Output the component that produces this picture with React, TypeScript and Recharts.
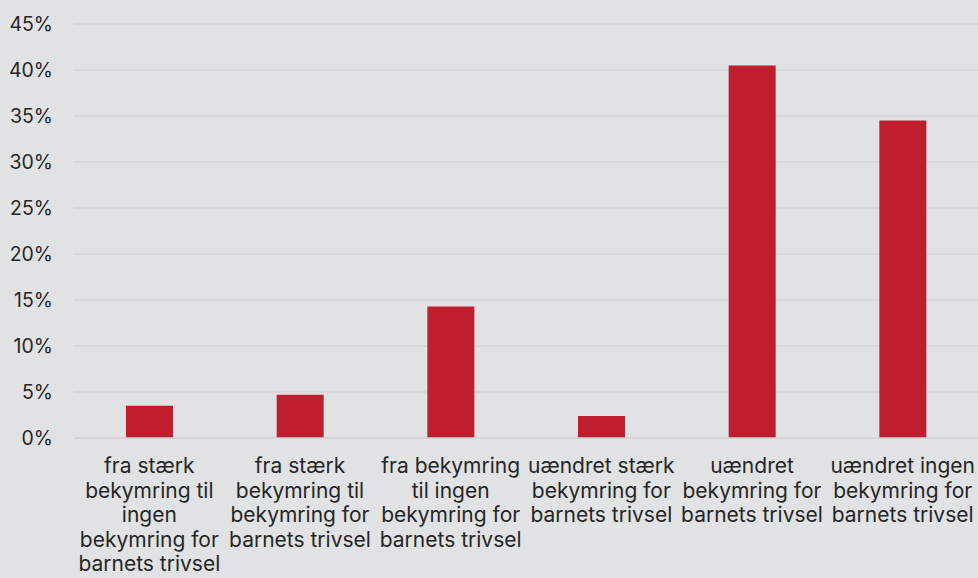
import { BarChart, Bar, XAxis, YAxis, CartesianGrid } from "recharts";

// x-axis categories (line breaks as in the original wrapped labels)
const categories = [
  "fra stærk\nbekymring til\ningen\nbekymring for\nbarnets trivsel",
  "fra stærk\nbekymring til\nbekymring for\nbarnets trivsel",
  "fra bekymring\ntil ingen\nbekymring for\nbarnets trivsel",
  "uændret stærk\nbekymring for\nbarnets trivsel",
  "uændret\nbekymring for\nbarnets trivsel",
  "uændret ingen\nbekymring for\nbarnets trivsel",
];

const shares = [0.035, 0.047, 0.143, 0.024, 0.405, 0.345];

const yTicks = [0, 0.05, 0.1, 0.15, 0.2, 0.25, 0.3, 0.35, 0.4, 0.45];

const bg = "#e1e2e4";
const gridColor = "#d4d5d8";
const barColor = "#be1e2d";
const textColor = "#262626";
const fontFamily = "Inter, 'Noto Sans', sans-serif";

const data = categories.map((label, i) => ({ label, value: shares[i] }));

type TickProps = { x?: number; y?: number; payload?: { value: string } };

function CategoryTick({ x = 0, y = 0, payload }: TickProps) {
  const lines = String(payload?.value ?? "").split("\n");
  return (
    <text
      x={x}
      y={y}
      textAnchor="middle"
      fill={textColor}
      fontSize={21}
      fontFamily={fontFamily}
    >
      {lines.map((line, i) => (
        <tspan key={i} x={x} dy={i === 0 ? 27 : 24.5}>
          {line}
        </tspan>
      ))}
    </text>
  );
}

export default function App() {
  return (
    <div
      style={{
        position: "absolute",
        left: 0,
        top: 0,
        width: 978,
        height: 578,
        background: bg,
      }}
    >
      <BarChart
        width={978}
        height={578}
        data={data}
        margin={{ top: 24, right: 0, left: 0, bottom: 0 }}
      >
        <CartesianGrid vertical={false} stroke={gridColor} strokeWidth={1.5} />
        <XAxis
          dataKey="label"
          interval={0}
          height={140}
          axisLine={{ stroke: gridColor, strokeWidth: 1.5 }}
          tickLine={false}
          tick={<CategoryTick />}
        />
        <YAxis
          width={74}
          domain={[0, 0.45]}
          ticks={yTicks}
          axisLine={false}
          tickLine={false}
          tickSize={0}
          tickMargin={21}
          tickFormatter={(v: number) => `${Math.round(v * 100)}%`}
          tick={{ fill: textColor, fontSize: 19.5, fontFamily }}
        />
        <Bar dataKey="value" fill={barColor} barSize={47} isAnimationActive={false} />
      </BarChart>
    </div>
  );
}
